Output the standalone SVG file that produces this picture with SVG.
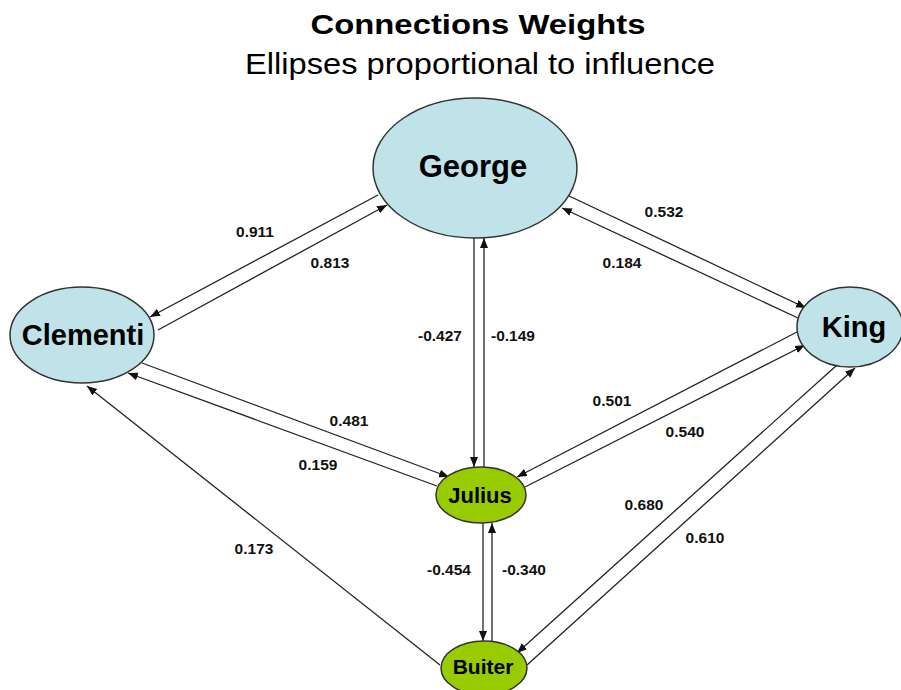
<svg xmlns="http://www.w3.org/2000/svg" width="901" height="690" viewBox="0 0 901 690">
<defs>
<marker id="arr" markerUnits="userSpaceOnUse" markerWidth="11" markerHeight="9" refX="10" refY="4" orient="auto">
<path d="M0,0 L10,4 L0,8 z" fill="#111"/>
</marker>
<style>
.t{font-family:"Liberation Sans",Arial,sans-serif;fill:#000;text-anchor:middle}
.b{font-weight:bold}
.lbl{font-family:"Liberation Sans",Arial,sans-serif;font-weight:bold;font-size:15.5px;fill:#111;text-anchor:middle}
.blue{fill:#bfe3e8;stroke:#333;stroke-width:1.5}
.green{fill:#99cc00;stroke:#333;stroke-width:1.5}
#edges line{stroke:#222;stroke-width:1.3;marker-end:url(#arr)}
</style>
</defs>
<rect width="901" height="690" fill="#fff"/>
<text class="t b" x="478" y="34" font-size="27" textLength="335" lengthAdjust="spacingAndGlyphs">Connections Weights</text>
<text class="t" x="480" y="74" font-size="29" textLength="470" lengthAdjust="spacingAndGlyphs">Ellipses proportional to influence</text>
<g id="edges">
<line x1="378" y1="195" x2="150" y2="317"/>
<line x1="158" y1="330" x2="387" y2="205"/>
<line x1="567" y1="195" x2="806" y2="308"/>
<line x1="798" y1="318" x2="562" y2="208"/>
<line x1="474" y1="237" x2="474" y2="467"/>
<line x1="484" y1="467" x2="484" y2="238"/>
<line x1="142" y1="363" x2="449" y2="477"/>
<line x1="437" y1="486" x2="128" y2="373"/>
<line x1="440" y1="665" x2="87" y2="386"/>
<line x1="797" y1="332" x2="517" y2="477"/>
<line x1="525" y1="487" x2="805" y2="345"/>
<line x1="837" y1="365" x2="517" y2="653"/>
<line x1="527" y1="665" x2="855" y2="368"/>
<line x1="483" y1="523" x2="483" y2="641"/>
<line x1="492" y1="641" x2="492" y2="523"/>
</g>
<g id="edge-labels">
<text class="lbl" x="255" y="237">0.911</text>
<text class="lbl" x="330" y="268">0.813</text>
<text class="lbl" x="664" y="217">0.532</text>
<text class="lbl" x="622" y="268">0.184</text>
<text class="lbl" x="440" y="341">-0.427</text>
<text class="lbl" x="513" y="341">-0.149</text>
<text class="lbl" x="349" y="426">0.481</text>
<text class="lbl" x="318" y="470">0.159</text>
<text class="lbl" x="612" y="406">0.501</text>
<text class="lbl" x="685" y="437">0.540</text>
<text class="lbl" x="644" y="510">0.680</text>
<text class="lbl" x="705" y="543">0.610</text>
<text class="lbl" x="254" y="554">0.173</text>
<text class="lbl" x="449" y="575">-0.454</text>
<text class="lbl" x="524" y="575">-0.340</text>
</g>
<g id="george">
<ellipse class="blue" cx="475" cy="168" rx="102" ry="70"/>
<text class="t b" x="473" y="177" font-size="31">George</text>
</g>
<g id="clementi">
<ellipse class="blue" cx="82" cy="335" rx="72" ry="48"/>
<text class="t b" x="83" y="345" font-size="29">Clementi</text>
</g>
<g id="king">
<ellipse class="blue" cx="850" cy="327" rx="53" ry="40"/>
<text class="t b" x="854" y="337" font-size="29">King</text>
</g>
<g id="julius">
<ellipse class="green" cx="481" cy="495" rx="45" ry="28"/>
<text class="t b" x="480" y="503" font-size="22">Julius</text>
</g>
<g id="buiter">
<ellipse class="green" cx="484" cy="668" rx="43" ry="27"/>
<text class="t b" x="483" y="674" font-size="21">Buiter</text>
</g>
</svg>
